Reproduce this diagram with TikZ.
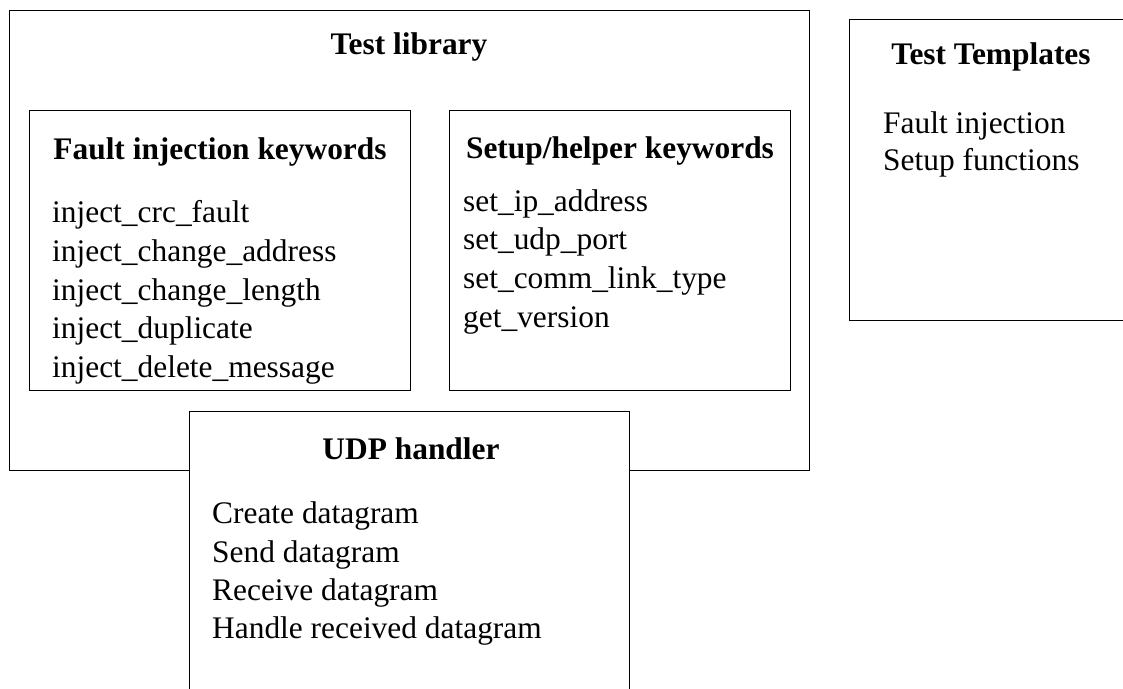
\documentclass[tikz,border=0pt]{standalone}
\usepackage{fontspec}
\setmainfont{Liberation Serif}
\begin{document}
\begin{tikzpicture}[x=1pt,y=-1pt,
  frame/.style={draw=black,line width=1.3pt,fill=white,inner sep=0pt,anchor=north west},
  heading/.style={font=\fontsize{31.4}{38.6}\selectfont\bfseries,inner sep=0pt,anchor=base},
  entry/.style={font=\fontsize{31.4}{38.6}\selectfont,inner sep=0pt,anchor=base west}]
\clip (0,0) rectangle (1123,688);

% outer container with its two keyword groups
\node[frame,minimum width=800pt,minimum height=460pt] (lib) at (9,10) {};
\node[heading] (libtitle) at (409,54) {Test library};

\node[frame,minimum width=381pt,minimum height=280pt] (fault) at (29,110) {};
\node[heading] (faulttitle) at (220,159) {Fault injection keywords};
\node[entry] (f1) at (52,222) {inject\_crc\_fault};
\node[entry] (f2) at (52,261) {inject\_change\_address};
\node[entry] (f3) at (52,300) {inject\_change\_length};
\node[entry] (f4) at (52,338) {inject\_duplicate};
\node[entry] (f5) at (52,377) {inject\_delete\_message};

\node[frame,minimum width=341pt,minimum height=280pt] (setup) at (449,110) {};
\node[heading] (setuptitle) at (620,158) {Setup/helper keywords};
\node[entry] (s1) at (463,211) {set\_ip\_address};
\node[entry] (s2) at (463,249) {set\_udp\_port};
\node[entry] (s3) at (463,288) {set\_comm\_link\_type};
\node[entry] (s4) at (463,327) {get\_version};

% UDP handler sits over the lower edge of the library box
\node[frame,minimum width=440pt,minimum height=300pt] (udp) at (189,411) {};
\node[heading] (udptitle) at (411,459) {UDP handler};
\node[entry] (u1) at (212,523) {Create datagram};
\node[entry] (u2) at (212,562) {Send datagram};
\node[entry] (u3) at (212,600) {Receive datagram};
\node[entry] (u4) at (212,638) {Handle received datagram};

% templates box on the right
\node[frame,minimum width=285pt,minimum height=301pt] (tmpl) at (849,19) {};
\node[heading] (tmpltitle) at (991,64) {Test Templates};
\node[entry] (t1) at (883,133) {Fault injection};
\node[entry] (t2) at (883,170) {Setup functions};
\end{tikzpicture}
\end{document}
